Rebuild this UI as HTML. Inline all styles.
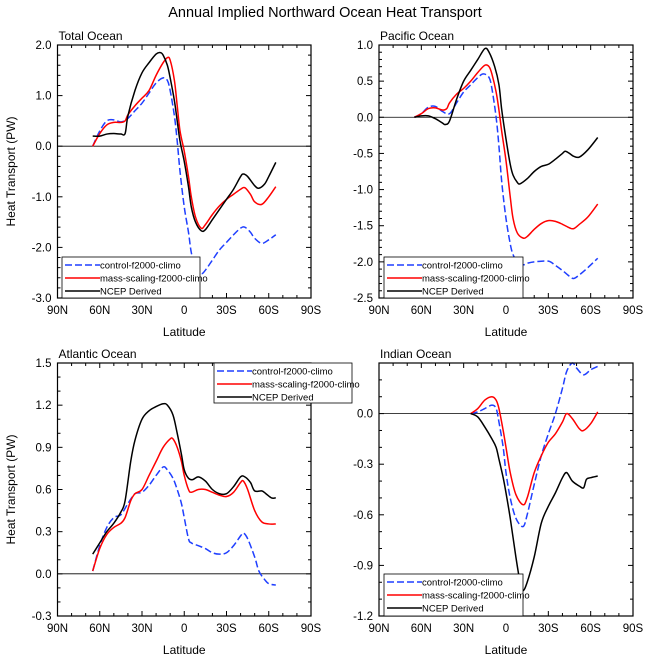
<!DOCTYPE html>
<html><head><meta charset="utf-8"><style>
body{margin:0;background:#fff;}
svg{display:block;font-family:"Liberation Sans",Arial,sans-serif;}
</style></head><body>
<svg id="c" width="649" height="662" xmlns="http://www.w3.org/2000/svg">
<text x="325" y="17" text-anchor="middle" font-size="14.5">Annual Implied Northward Ocean Heat Transport</text>
</svg>
<script>
const latTicks=[90,60,30,0,-30,-60,-90];
const latLabels=["90N","60N","30N","0","30S","60S","90S"];
const seriesNames=["control-f2000-climo","mass-scaling-f2000-climo","NCEP Derived"];
// Total Ocean
const totLatB=[65,60,55,50,45,40,35,30,25,20,15,12,10,7,5,3,0,-3,-5,-8,-12,-15,-20,-25,-30,-35,-40,-43,-47,-50,-55,-60,-65];
const totB=[0,0.3,0.5,0.52,0.48,0.55,0.7,0.85,1.05,1.25,1.35,1.3,1.1,0.6,0.1,-0.5,-1.2,-1.7,-2.1,-2.4,-2.52,-2.45,-2.25,-2.05,-1.9,-1.75,-1.62,-1.6,-1.7,-1.82,-1.92,-1.85,-1.75];
const totLatR=[65,60,55,50,45,42,40,35,30,25,20,15,12,10,7,5,3,0,-3,-5,-8,-12,-15,-20,-25,-30,-35,-40,-43,-47,-50,-55,-60,-65];
const totR=[0,0.25,0.42,0.47,0.47,0.5,0.62,0.8,0.95,1.1,1.4,1.65,1.75,1.7,1.3,0.8,0.3,-0.1,-0.6,-1.0,-1.4,-1.62,-1.55,-1.35,-1.18,-1.05,-0.95,-0.85,-0.82,-0.95,-1.1,-1.15,-1.0,-0.8];
const totLatK=[65,60,55,50,45,42,40,35,30,25,20,17,15,12,10,7,5,3,0,-3,-5,-8,-12,-15,-20,-25,-30,-35,-40,-42,-45,-50,-53,-57,-60,-65];
const totK=[0.2,0.2,0.24,0.25,0.24,0.25,0.6,1.1,1.45,1.65,1.82,1.85,1.8,1.6,1.35,0.9,0.5,0.1,-0.3,-0.8,-1.2,-1.5,-1.67,-1.65,-1.45,-1.25,-1.05,-0.85,-0.6,-0.55,-0.6,-0.78,-0.83,-0.75,-0.6,-0.32];
// Pacific
const pacLatB=[65,60,55,50,45,40,35,30,25,20,16,12,10,7,5,3,0,-3,-5,-8,-12,-15,-20,-30,-35,-40,-45,-48,-52,-58,-65];
const pacB=[0,0.05,0.14,0.15,0.08,0.05,0.2,0.35,0.45,0.55,0.6,0.55,0.4,0,-0.4,-0.9,-1.4,-1.75,-1.9,-2.0,-2.04,-2.02,-2.0,-1.99,-2.05,-2.12,-2.2,-2.23,-2.18,-2.08,-1.95];
const pacLatR=[65,60,55,50,45,42,40,35,30,25,20,15,12,10,7,5,3,0,-3,-5,-8,-12,-15,-20,-25,-30,-35,-40,-45,-48,-52,-58,-65];
const pacR=[0,0.05,0.12,0.13,0.1,0.12,0.2,0.32,0.4,0.5,0.62,0.72,0.7,0.6,0.35,0.1,-0.2,-0.6,-1.1,-1.4,-1.6,-1.67,-1.65,-1.55,-1.47,-1.43,-1.44,-1.48,-1.53,-1.54,-1.48,-1.38,-1.2];
const pacLatK=[65,60,55,50,45,43,40,35,30,25,20,15,12,8,5,3,0,-3,-5,-8,-10,-15,-20,-25,-30,-35,-40,-42,-45,-48,-52,-58,-65];
const pacK=[0,0.02,0.02,-0.02,-0.08,-0.1,-0.05,0.25,0.5,0.65,0.8,0.95,0.9,0.7,0.45,0.1,-0.3,-0.65,-0.8,-0.9,-0.92,-0.85,-0.75,-0.68,-0.65,-0.58,-0.5,-0.47,-0.5,-0.54,-0.55,-0.45,-0.28];
// Atlantic
const atlLatB=[65,60,55,50,45,40,35,30,25,20,15,12,8,5,2,0,-3,-5,-10,-15,-20,-25,-30,-35,-40,-42,-45,-50,-53,-57,-60,-65];
const atlB=[0.02,0.2,0.33,0.4,0.42,0.5,0.57,0.58,0.63,0.7,0.76,0.74,0.68,0.6,0.5,0.4,0.25,0.22,0.2,0.18,0.15,0.14,0.15,0.2,0.27,0.29,0.25,0.12,0.02,-0.04,-0.07,-0.08];
const atlLatR=[65,60,55,50,45,42,38,35,30,25,20,15,10,8,5,2,0,-3,-5,-10,-15,-20,-25,-30,-35,-40,-42,-45,-50,-55,-60,-65];
const atlR=[0.02,0.18,0.28,0.33,0.36,0.4,0.52,0.57,0.6,0.7,0.8,0.9,0.96,0.96,0.9,0.8,0.7,0.6,0.58,0.6,0.6,0.58,0.56,0.55,0.58,0.65,0.66,0.6,0.45,0.37,0.355,0.355];
const atlLatK=[65,60,55,50,45,42,38,35,30,25,20,15,12,8,5,2,0,-3,-6,-10,-15,-20,-25,-30,-35,-40,-43,-47,-50,-55,-58,-62,-65];
const atlK=[0.14,0.22,0.3,0.36,0.44,0.52,0.8,0.95,1.1,1.16,1.19,1.21,1.2,1.13,1.0,0.85,0.74,0.68,0.67,0.69,0.66,0.6,0.57,0.57,0.62,0.69,0.69,0.65,0.59,0.59,0.57,0.54,0.54];
// Indian
const indLatB=[25,20,15,10,7,5,2,0,-3,-7,-12,-15,-20,-25,-30,-35,-40,-43,-47,-50,-55,-60,-65];
const indB=[0,0.01,0.03,0.05,0.03,-0.05,-0.2,-0.35,-0.5,-0.62,-0.67,-0.6,-0.42,-0.25,-0.12,0,0.15,0.25,0.3,0.27,0.23,0.26,0.28];
const indLatR=[25,20,15,10,7,5,2,0,-3,-7,-12,-15,-20,-25,-30,-35,-40,-43,-47,-52,-55,-60,-65];
const indR=[0,0.03,0.08,0.1,0.08,0.03,-0.1,-0.2,-0.35,-0.48,-0.54,-0.5,-0.35,-0.25,-0.17,-0.12,-0.05,0,-0.03,-0.09,-0.1,-0.06,0.01];
const indLatK=[25,20,15,10,7,5,2,0,-3,-7,-10,-12,-15,-20,-25,-30,-35,-40,-43,-47,-52,-55,-57,-60,-65];
const indK=[0,-0.02,-0.08,-0.15,-0.2,-0.27,-0.38,-0.47,-0.62,-0.85,-1.0,-1.05,-1.0,-0.85,-0.65,-0.55,-0.47,-0.38,-0.35,-0.4,-0.43,-0.44,-0.39,-0.38,-0.37];

const NS="http://www.w3.org/2000/svg";
const svg=document.getElementById('c');
function el(t,a,p){const e=document.createElementNS(NS,t);for(const k in a)e.setAttribute(k,a[k]);(p||svg).appendChild(e);return e;}
function smooth(pts){let d="M"+pts[0][0].toFixed(2)+","+pts[0][1].toFixed(2);
 for(let i=0;i<pts.length-1;i++){const p0=pts[i-1]||pts[i],p1=pts[i],p2=pts[i+1],p3=pts[i+2]||p2;
  const c1=[p1[0]+(p2[0]-p0[0])/6,p1[1]+(p2[1]-p0[1])/6],c2=[p2[0]-(p3[0]-p1[0])/6,p2[1]-(p3[1]-p1[1])/6];
  d+="C"+c1[0].toFixed(2)+","+c1[1].toFixed(2)+" "+c2[0].toFixed(2)+","+c2[1].toFixed(2)+" "+p2[0].toFixed(2)+","+p2[1].toFixed(2);}
 return d;}

const panels=[
 {name:"total-ocean",title:"Total Ocean",x0:57.5,x1:311,y0:45,y1:298,ymin:-3,ymax:2,major:1,minor:0.2,fmt:1,yt:true,labMin:-3,labMax:2,
  s:[[totLatB,totB],[totLatR,totR],[totLatK,totK]],leg:[62,257,200,298]},
 {name:"pacific-ocean",title:"Pacific Ocean",x0:379,x1:633,y0:45,y1:298,ymin:-2.5,ymax:1,major:0.5,minor:0.1,fmt:1,yt:false,labMin:-2.5,labMax:1,
  s:[[pacLatB,pacB],[pacLatR,pacR],[pacLatK,pacK]],leg:[384,257,523,298]},
 {name:"atlantic-ocean",title:"Atlantic Ocean",x0:57.5,x1:311,y0:363,y1:616,ymin:-0.3,ymax:1.5,major:0.3,minor:0.1,fmt:1,yt:true,labMin:-0.3,labMax:1.5,
  s:[[atlLatB,atlB],[atlLatR,atlR],[atlLatK,atlK]],leg:[214,363,352,403]},
 {name:"indian-ocean",title:"Indian Ocean",x0:379,x1:633,y0:363,y1:616,ymin:-1.2,ymax:0.3,major:0.3,minor:0.1,fmt:1,yt:false,labMin:-1.2,labMax:0,
  s:[[indLatB,indB],[indLatR,indR],[indLatK,indK]],leg:[384,574,523,616]}
];
const colors=["#1f3fff","#ff0000","#000000"];
const dashes=["7,3","",""];
const legendLayer=[];
panels.forEach((P,pi)=>{
 const g=el('g',{});
 
 
 const X=lat=>P.x0+(90-lat)/180*(P.x1-P.x0);
 const Y=v=>P.y1-(v-P.ymin)/(P.ymax-P.ymin)*(P.y1-P.y0);
 const t=el('text',{x:P.x0+1,y:P.y0-5,'font-size':12},g);t.textContent=P.title;
 
 const z=el('line',{x1:P.x0,x2:P.x1,y1:Y(0),y2:Y(0),stroke:'#000','stroke-width':0.8},g);
 
 P.s.forEach((s,si)=>{
  const pts=s[0].map((la,i)=>[X(la),Y(s[1][i])]);
  const p=el('path',{d:smooth(pts),fill:'none',stroke:colors[si],'stroke-width':1.5,'stroke-dasharray':dashes[si]},g);
  
  
 });
 const fr=el('rect',{x:P.x0,y:P.y0,width:P.x1-P.x0,height:P.y1-P.y0,fill:'none',stroke:'#000','stroke-width':1.2},g);
 
 for(let la=90;la>=-90;la-=10){const x=X(la);const maj=la%30===0;const L=maj?5:3;
  el('line',{x1:x,x2:x,y1:P.y1,y2:P.y1-L,stroke:'#000','stroke-width':1},g);
  el('line',{x1:x,x2:x,y1:P.y0,y2:P.y0+L,stroke:'#000','stroke-width':1},g);}
 latTicks.forEach((la,i)=>{const tx=el('text',{x:X(la),y:P.y1+16,'font-size':11.5,'text-anchor':'middle'},g);tx.textContent=latLabels[i];
  });
 const xt=el('text',{x:(P.x0+P.x1)/2,y:P.y1+38,'font-size':12,'text-anchor':'middle'},g);xt.textContent='Latitude';
 
 const nmin=Math.round((P.ymax-P.ymin)/P.minor);
 for(let i=0;i<=nmin;i++){const v=P.ymin+i*P.minor;const y=Y(v);
  const r=Math.abs(v/P.major-Math.round(v/P.major))<1e-6;const L=r?5:3;
  el('line',{x1:P.x0,x2:P.x0+L,y1:y,y2:y,stroke:'#000','stroke-width':1},g);
  el('line',{x1:P.x1,x2:P.x1-L,y1:y,y2:y,stroke:'#000','stroke-width':1},g);
  if(r&&v>=P.labMin-1e-6&&v<=P.labMax+1e-6){const ty=el('text',{x:P.x0-6,y:y+4,'font-size':11.5,'text-anchor':'end'},g);
   ty.textContent=(Math.abs(v)<1e-9?0:v).toFixed(P.fmt);
   }}
 if(P.yt){const yt=el('text',{x:0,y:0,'font-size':12,'text-anchor':'middle',transform:`translate(15,${(P.y0+P.y1)/2}) rotate(-90)`},g);
  yt.textContent='Heat Transport (PW)';}
 legendLayer.push(P);
});
legendLayer.forEach(P=>{
 const [lx,ly,rx,by]=P.leg;
 const g=el('g',{});
 
 
 el('rect',{x:lx,y:ly,width:rx-lx,height:by-ly,fill:'#fff',stroke:'#000','stroke-width':0.8},g);
 seriesNames.forEach((n,i)=>{const y=ly+8+i*13;
  const l=el('line',{x1:lx+3,x2:lx+38,y1:y,y2:y,stroke:colors[i],'stroke-width':1.5,'stroke-dasharray':dashes[i]},g);
  
  const t=el('text',{x:lx+38,y:y+3.5,'font-size':9.5},g);t.textContent=n;
  });
});
</script>
</body></html>
